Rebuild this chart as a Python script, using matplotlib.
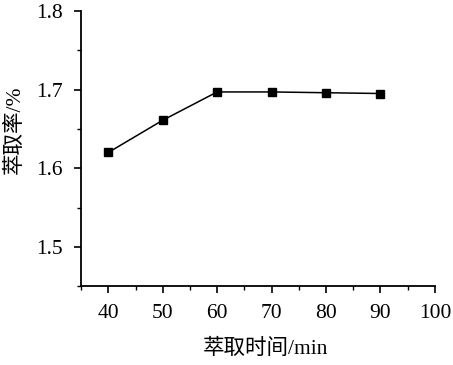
import matplotlib
matplotlib.use("Agg")
import matplotlib.pyplot as plt
from matplotlib.ticker import MultipleLocator

# data
time_min = [40, 50, 60, 70, 80, 90]
yield_pct = [1.620, 1.661, 1.697, 1.697, 1.696, 1.695]
x_ticks = [40, 50, 60, 70, 80, 90, 100]
y_ticks = [1.5, 1.6, 1.7, 1.8]

plt.rcParams['font.family'] = ['Liberation Serif', 'Noto Sans CJK SC']

fig = plt.figure(figsize=(4.53, 3.65), dpi=100)
ax = fig.add_axes([0.179, 0.216, 0.781, 0.754])

ax.plot(time_min, yield_pct, color='black', linewidth=1.1,
        marker='s', markersize=6, markerfacecolor='black')

ax.set_xlim(35, 100)
ax.set_ylim(1.45, 1.8)
ax.set_xticks(x_ticks)
ax.set_yticks(y_ticks)
ax.xaxis.set_minor_locator(MultipleLocator(5))
ax.yaxis.set_minor_locator(MultipleLocator(0.05))

for s in ['top', 'right']:
    ax.spines[s].set_visible(False)
for s in ['left', 'bottom']:
    ax.spines[s].set_linewidth(1.3)

ax.tick_params(which='major', direction='out', length=5, width=1.2, labelsize=15.5, pad=8)
ax.tick_params(which='minor', direction='out', length=3, width=1.0)

ax.set_xlabel('萃取时间/min', fontsize=15.5)
ax.set_ylabel('萃取率/%', fontsize=15.5)
ax.xaxis.set_label_coords(0.52, -0.19)
ax.yaxis.set_label_coords(-0.158, 0.567)

fig.savefig('out.png', dpi=100)
